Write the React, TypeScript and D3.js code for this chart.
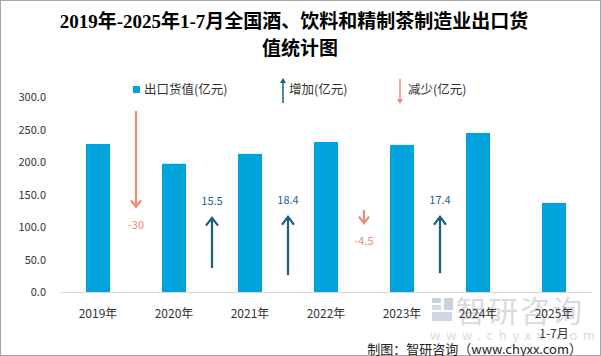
import React from "react";
import * as d3 from "d3";

const categories = ["2019年", "2020年", "2021年", "2022年", "2023年", "2024年", "2025年\n1-7月"];
const exportValues = [227.7, 197.3, 212.5, 230.8, 226.3, 244.6, 137];
const yTicks = [0, 50, 100, 150, 200, 250, 300];
// change arrows between consecutive years
const changeLabels = ["-30", "15.5", "18.4", "-4.5", "17.4"];
const changeDir = ["down", "up", "up", "down", "up"];
const arrowFrom = [278.5, 37, 26, 126, 29];
const arrowTo = [131, 114, 115.5, 106, 115.5];

const W = 601, H = 356;
const BAR = "#00A3DC", UP = "#17607F", DOWN = "#EE8B73";
const FONT = "'Noto Sans CJK SC', 'Open Sans', sans-serif";

export default function App() {
  const x = d3.scaleBand().domain(categories).range([60, 592]).padding(0);
  const y = d3.scaleLinear().domain([0, 300]).range([292, 97]);
  const bw = x.bandwidth() * 0.316;

  return (
    <svg width={W} height={H} style={{ position: "absolute", left: 0, top: 0, fontFamily: FONT }}>
      <rect x={0.5} y={0.5} width={W - 1} height={H - 1} fill="#fff" stroke="#A6A6A6" />
      <text x={294} y={28} textAnchor="middle" fontSize={19} fontWeight="bold"
        fontFamily="'Liberation Serif', 'Noto Sans CJK SC', serif" fill="#000">
        2019年-2025年1-7月全国酒、饮料和精制茶制造业出口货
      </text>
      <text x={300} y={55} textAnchor="middle" fontSize={19} fontWeight="bold"
        fontFamily="'Liberation Serif', 'Noto Sans CJK SC', serif" fill="#000">
        值统计图
      </text>

      {/* legend */}
      <rect x={133} y={86} width={7} height={7} fill={BAR} />
      <text x={144} y={94} fontSize={12.5} fill="#333">出口货值(亿元)</text>
      <line x1={283} y1={103} x2={283} y2={80} stroke={UP} strokeWidth={1.5} />
      <path d={`M280,83 L283,78 L286,83 Z`} fill={UP} />
      <text x={289} y={94} fontSize={12.5} fill="#333">增加(亿元)</text>
      <line x1={400} y1={79} x2={400} y2={101} stroke={DOWN} strokeWidth={1.5} />
      <path d={`M397,99 L400,104 L403,99 Z`} fill={DOWN} />
      <text x={408} y={94} fontSize={12.5} fill="#333">减少(亿元)</text>

      {/* watermark */}
      <g opacity={0.5}>
        <rect x={432} y={298} width={9} height={5} fill="#8FA6C3" />
        <rect x={432} y={305} width={9} height={5} fill="#A9BCD3" />
        <rect x={432} y={312} width={20} height={9} fill="#9FB3CC" />
        <rect x={444} y={298} width={9} height={12} fill="#8FA6C3" />
        <text x={456} y={322} fontSize={30} fill="#B4B8BE" fontFamily={FONT} letterSpacing={2}>智研咨询</text>
        <text x={430} y={340} fontSize={13} fill="#B4B8BE" letterSpacing={5.6}>www.chyxx.com</text>
      </g>

      {/* y axis labels */}
      {yTicks.map((t) => (
        <text key={t} x={46} y={y(t) + 4} textAnchor="end" fontSize={11} fill="#333">
          {t.toFixed(1)}
        </text>
      ))}

      {/* bars */}
      {exportValues.map((v, i) => (
        <rect key={i} x={x(categories[i])! + (x.bandwidth() - bw) / 2} y={y(v)}
          width={bw} height={y(0) - y(v)} fill={BAR} />
      ))}
      <line x1={60} x2={592} y1={292.5} y2={292.5} stroke="#D9D9D9" />

      {/* x labels */}
      {categories.map((c, i) => {
        const cx = x(c)! + x.bandwidth() / 2;
        return c.split("\n").map((ln, j) => (
          <text key={i + "-" + j} x={cx} y={318 + j * 20} textAnchor="middle" fontSize={12} fill="#333">
            {ln}
          </text>
        ));
      })}

      {/* change arrows */}
      {changeLabels.map((lab, i) => {
        const ax = x(categories[i + 1])!;
        const y1 = y(arrowFrom[i]), y2 = y(arrowTo[i]);
        const up = changeDir[i] === "up";
        const col = up ? UP : DOWN;
        const hs = up ? 6 : 5;
        const dir = up ? 1 : -1;
        const ly = up ? y2 - 13 : y2 + 22;
        return (
          <g key={i}>
            <line x1={ax} x2={ax} y1={y1} y2={y2 + (up ? 1 : -1)} stroke={col} strokeWidth={2.2} />
            <path d={`M${ax - hs},${y2 + dir * hs * 1.3} L${ax},${y2} L${ax + hs},${y2 + dir * hs * 1.3}`}
              fill="none" stroke={col} strokeWidth={2.2} />
            <text x={ax} y={ly} textAnchor="middle" fontSize={11} fill={up ? "#1F5F8B" : DOWN}>{lab}</text>
          </g>
        );
      })}

      <text x={582} y={354} textAnchor="end" fontSize={13} fill="#222">制图：智研咨询（www.chyxx.com）</text>
    </svg>
  );
}
